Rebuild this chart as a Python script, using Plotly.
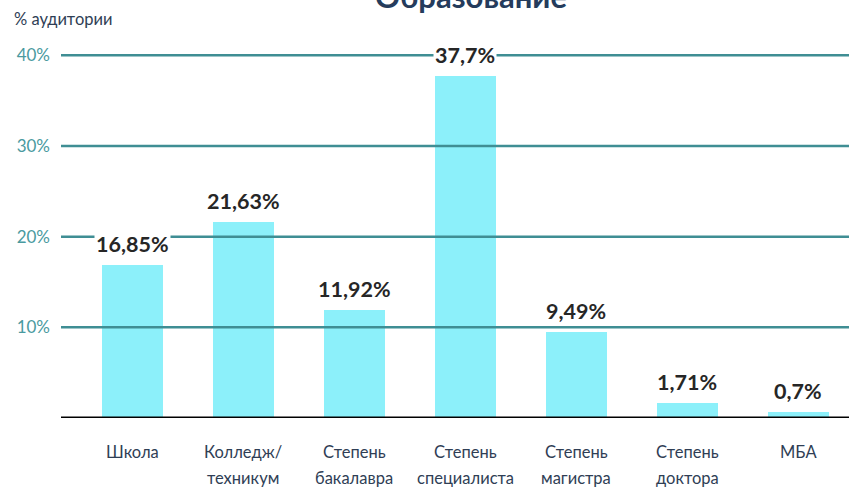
import plotly.graph_objects as go

categories_line1 = ["Школа", "Колледж/", "Степень", "Степень", "Степень", "Степень", "МБА"]
categories_line2 = ["", "техникум", "бакалавра", "специалиста", "магистра", "доктора", ""]
values = [16.85, 21.63, 11.92, 37.7, 9.49, 1.71, 0.7]
value_labels = ["16,85%", "21,63%", "11,92%", "37,7%", "9,49%", "1,71%", "0,7%"]
tick_vals = [10, 20, 30, 40]
tick_text = ["10%", "20%", "30%", "40%"]
title_text = "Образование"
yaxis_label = "% аудитории"

FONT = "Lato"
x_pos = list(range(len(values)))

fig = go.Figure()
fig.add_trace(go.Bar(
    x=x_pos, y=values, width=0.55,
    marker=dict(color="#8cf0fa", line=dict(width=0)),
    hoverinfo="skip", showlegend=False,
))

shapes = []
for tv in tick_vals:
    shapes.append(dict(type="line", xref="paper", x0=0, x1=1, yref="y", y0=tv, y1=tv,
                       line=dict(color="#3f8e94", width=2.5), layer="above"))
shapes.append(dict(type="line", xref="paper", x0=0, x1=1, yref="y", y0=0, y1=0,
                   line=dict(color="#000000", width=3), layer="above"))

annotations = []
for i, (v, t) in enumerate(zip(values, value_labels)):
    annotations.append(dict(x=i, y=v, xref="x", yref="y", text="<b>" + t + "</b>",
                            showarrow=False, yanchor="middle", yshift=21,
                            bgcolor="#ffffff", borderpad=1,
                            font=dict(family=FONT, size=21.5, color="#262626")))
for i, (l1, l2) in enumerate(zip(categories_line1, categories_line2)):
    annotations.append(dict(x=i, y=0, xref="x", yref="paper", text=l1, showarrow=False,
                            yanchor="middle", yshift=-34,
                            font=dict(family=FONT, size=16.5, color="#2f3e55")))
    if l2:
        annotations.append(dict(x=i, y=0, xref="x", yref="paper", text=l2, showarrow=False,
                                yanchor="middle", yshift=-60,
                                font=dict(family=FONT, size=16.5, color="#2f3e55")))
plot_left = 61
plot_w = 849 - plot_left
annotations.append(dict(x=(471 - plot_left) / plot_w, y=1, xref="paper", yref="paper",
                        text="<b>" + title_text + "</b>",
                        showarrow=False, yanchor="middle", yshift=45,
                        font=dict(family=FONT, size=31, color="#253c5c")))
annotations.append(dict(x=0, y=1, xref="paper", yref="paper", text=yaxis_label,
                        showarrow=False, xanchor="left", yanchor="middle", xshift=-49, yshift=22,
                        font=dict(family=FONT, size=16.5, color="#2f3e55")))

fig.update_layout(
    width=849, height=489,
    margin=dict(l=plot_left, r=0, t=41, b=71),
    plot_bgcolor="#ffffff", paper_bgcolor="#ffffff",
    xaxis=dict(range=[-0.644, 6.455], showgrid=False, zeroline=False, showticklabels=False,
               showline=False, fixedrange=True),
    yaxis=dict(range=[0, 41.58], tickvals=tick_vals, ticktext=tick_text, showgrid=False,
               zeroline=False, showline=False, ticks="", ticklabelstandoff=10,
               tickfont=dict(family=FONT, size=17, color="#4a9a9f")),
    shapes=shapes, annotations=annotations, bargap=0,
)

fig.write_html("out.html", config={"displayModeBar": False},
               post_script="document.body.style.margin='0';document.body.style.overflow='hidden';")
